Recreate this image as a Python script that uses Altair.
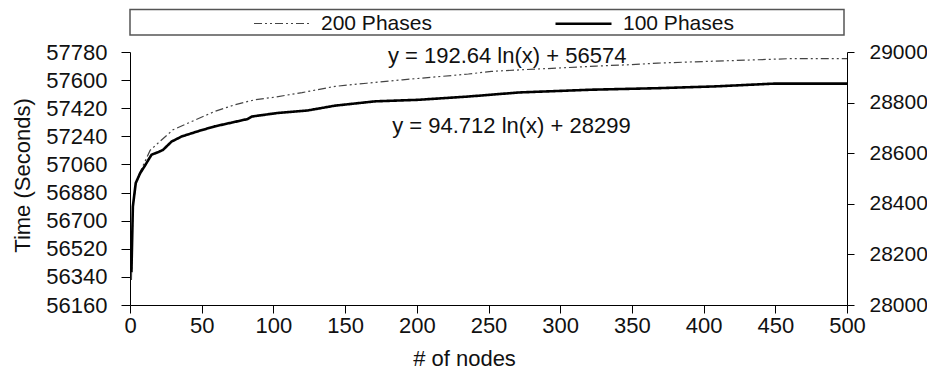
import altair as alt
import pandas as pd

series = ["200 Phases", "100 Phases"]

x200 = [1, 2, 4, 7, 10, 14, 20, 30, 43, 59, 73, 87, 101, 120, 143, 165, 190, 210,
        236, 252, 275, 298, 325, 350, 368, 403, 430, 459, 480, 500]
t200 = [56320, 56780, 56930, 57010, 57070, 57150, 57200, 57282, 57335, 57399, 57442,
        57474, 57491, 57520, 57560, 57580, 57602, 57618, 57639, 57656, 57667, 57677,
        57690, 57699, 57709, 57720, 57728, 57737, 57737, 57738]

x100 = [1, 2, 4, 7, 10, 15, 20, 23, 29, 36, 47, 59, 71, 82, 85, 103, 124, 143, 171,
        201, 236, 271, 322, 368, 408, 449, 500]
t100 = [28130, 28389, 28482, 28520, 28547, 28594, 28605, 28613, 28646, 28666, 28686,
        28706, 28721, 28735, 28745, 28759, 28769, 28788, 28805, 28811, 28824, 28840,
        28851, 28857, 28864, 28875, 28875]

left_ticks = [56160, 56340, 56520, 56700, 56880, 57060, 57240, 57420, 57600, 57780]
right_ticks = [28000, 28200, 28400, 28600, 28800, 29000]
x_ticks = [0, 50, 100, 150, 200, 250, 300, 350, 400, 450, 500]

eq_labels = ["y = 192.64 ln(x) + 56574", "y = 94.712 ln(x) + 28299"]
eq_x = [263, 266]
eq_left_y = [57756]
eq_right_y = [28708]

FONT = "Liberation Sans"

df200 = pd.DataFrame({"x": x200, "t": t200, "series": series[0]})
df100 = pd.DataFrame({"x": x100, "t": t100, "series": series[1]})

x_axis = alt.Axis(values=x_ticks, tickSize=8, labelPadding=2, title="# of nodes",
                  titleX=334, titleY=53, titleBaseline="middle", titleAlign="center",
                  titleFontSize=22, titleFontWeight="normal", labelFlush=False,
                  labelOverlap=False, grid=False, labelFontSize=22, format="d")
x_scale = alt.Scale(domain=[0, 500], nice=False, zero=False)

color = alt.Color("series:N", scale=alt.Scale(domain=series, range=["#444444", "#000000"]),
                  legend=alt.Legend(orient="none", legendX=123, legendY=-58, direction="horizontal",
                                    title=None, symbolType="stroke", symbolSize=3136,
                                    labelFontSize=21, labelFont=FONT, labelOffset=10,
                                    columnPadding=118, padding=0, labelColor="#111111"))
dash = alt.StrokeDash("series:N", scale=alt.Scale(domain=series, range=[[8, 3, 2, 3, 2, 3], [1, 0]]))
width = alt.StrokeWidth("series:N", scale=alt.Scale(domain=series, range=[1.2, 2.6]))

left_scale = alt.Scale(domain=[56160, 57780], nice=False, zero=False)
right_scale = alt.Scale(domain=[28000, 29000], nice=False, zero=False)

left_axis = alt.Axis(values=left_ticks, tickSize=9, labelPadding=14, title="Time (Seconds)",
                     titleAngle=270, titleX=-108, titleY=123, titleBaseline="middle",
                     titleAlign="center", titleFontSize=22, titleFontWeight="normal",
                     labelFlush=False, labelOverlap=False, grid=False, labelFontSize=22,
                     format="d")
right_axis = alt.Axis(values=right_ticks, tickSize=7, labelPadding=15, orient="right",
                      labelFlush=False, labelOverlap=False, grid=False, labelFontSize=21,
                      format="d")

line200 = alt.Chart(df200).mark_line(interpolate="linear").encode(
    x=alt.X("x:Q", scale=x_scale, axis=x_axis),
    y=alt.Y("t:Q", scale=left_scale, axis=left_axis),
    color=color, strokeDash=dash, strokeWidth=width,
)
text200 = alt.Chart(pd.DataFrame({"x": eq_x[:1], "t": eq_left_y, "label": eq_labels[:1]})).mark_text(
    font=FONT, fontSize=22, color="#111111", align="center", baseline="middle"
).encode(x=alt.X("x:Q", scale=x_scale, axis=x_axis),
         y=alt.Y("t:Q", scale=left_scale, axis=left_axis), text="label:N")

box = alt.Chart(pd.DataFrame({"a": [0]})).mark_rect(
    fill="white", fillOpacity=0, stroke="#555555", strokeWidth=1.5
).encode(x=alt.value(0), x2=alt.value(714), y=alt.value(-42.5), y2=alt.value(-17))

line100 = alt.Chart(df100).mark_line(interpolate="linear").encode(
    x=alt.X("x:Q", scale=x_scale, axis=x_axis),
    y=alt.Y("t:Q", scale=right_scale, axis=right_axis, title=None),
    color=color, strokeDash=dash, strokeWidth=width,
)
text100 = alt.Chart(pd.DataFrame({"x": eq_x[1:], "t": eq_right_y, "label": eq_labels[1:]})).mark_text(
    font=FONT, fontSize=22, color="#111111", align="center", baseline="middle"
).encode(x=alt.X("x:Q", scale=x_scale, axis=x_axis),
         y=alt.Y("t:Q", scale=right_scale, axis=right_axis, title=None), text="label:N")

left_layer = alt.layer(box, line200, text200)
right_layer = alt.layer(line100, text100)

chart = alt.layer(left_layer, right_layer).resolve_scale(y="independent").properties(
    width=717, height=253,
    background="white",
    autosize=alt.AutoSizeParams(type="none"),
    padding={"left": 122, "top": 44, "right": 80, "bottom": 64},
).configure_view(stroke=None).configure_axis(
    grid=False, domainColor="#000000", tickColor="#000000", labelColor="#111111",
    titleColor="#111111", labelFont=FONT, titleFont=FONT, labelFontSize=22, domainWidth=1,
    tickWidth=1,
)

chart.save("out.html", embed_options={"renderer": "svg", "actions": False})
